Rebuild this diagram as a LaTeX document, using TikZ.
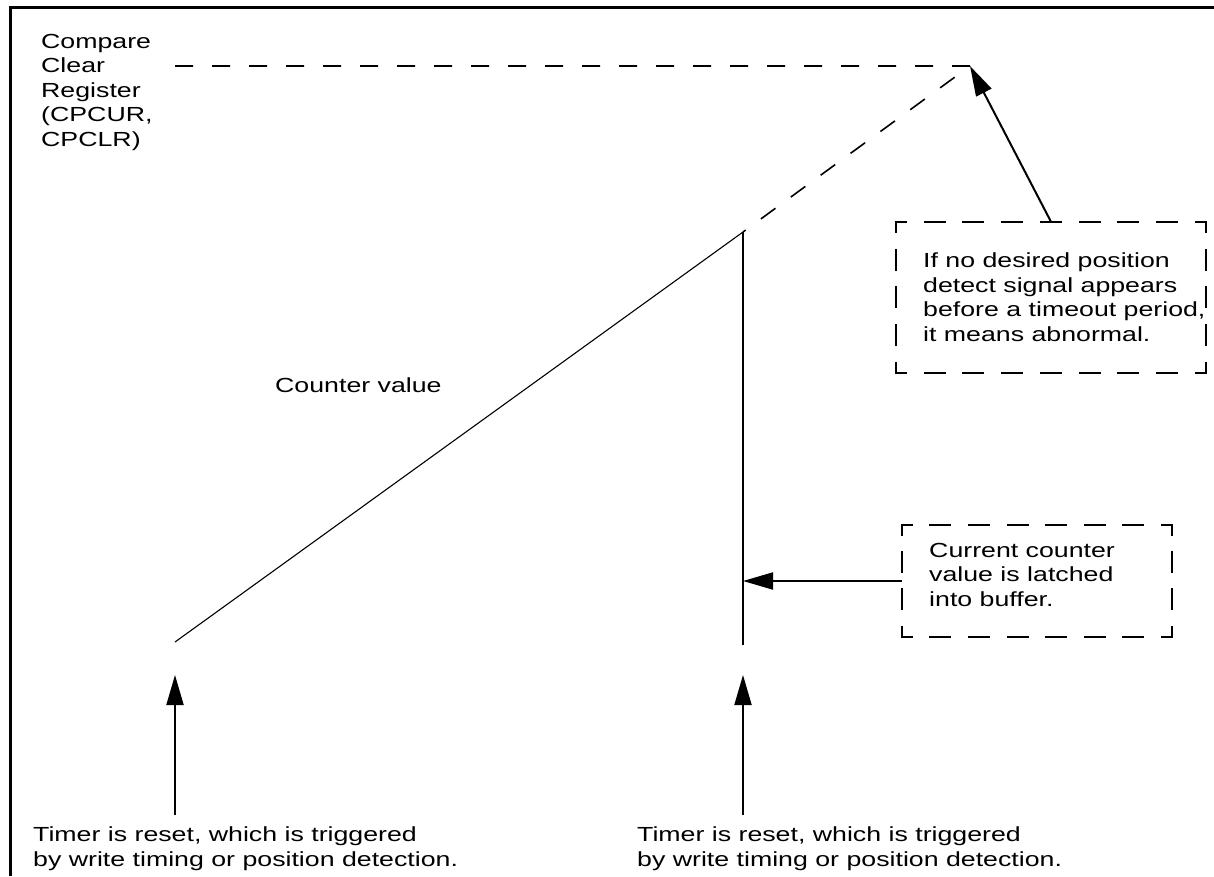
\documentclass[tikz,border=0pt]{standalone}
\usepackage{fontspec}
\setmainfont{Liberation Sans}[FakeStretch=1.31]
\usetikzlibrary{positioning, arrows.meta, calc}

\begin{document}
\begin{tikzpicture}[
    x=1pt, y=-1pt,
    font=\fontsize{20.4}{24.5}\selectfont,
    lbl/.style={inner sep=0pt, align=left, anchor=base west},
    notebox/.style={inner sep=0pt},
    boxside/.style={line width=2pt, line cap=rect, dash pattern=on 20pt off #1, dash phase=10pt},
    lim/.style={line width=1.6pt, dash pattern=on 18pt off 19pt},
    cnt/.style={line width=1.1pt},
    hold/.style={line width=2pt},
    ar/.style={-{Triangle[length=30pt, width=17pt]}, line width=2pt}
]
\useasboundingbox (0,0) rectangle (1214,876);
% frame
\draw[line width=3pt] (1214,7) -- (10,7) -- (10,876);

% counter trace
\coordinate (lim0) at (175,66);
\coordinate (peak) at (970,66);
\coordinate (hit) at (743,232);
\coordinate (start) at (175,642);
\coordinate (stop) at (743,645);
\coordinate (go1) at (175,675);
\coordinate (go2) at (743,675);
\coordinate (foot1) at (175,815);
\coordinate (foot2) at (743,815);

% labels (base = last line)
\node[lbl] (clrlbl) at (41,146) {Compare\\Clear\\Register\\(CPCUR,\\CPCLR)};
\node[lbl] (cntlbl) at (275,392) {Counter value};

\node[notebox, minimum width=310pt, minimum height=151pt] (timeout) at (1051,297.5) {};
\node[lbl] (timeouttxt) at (923,341) {If no desired position\\detect signal appears\\before a timeout period,\\it means abnormal.};
\node[notebox, minimum width=270pt, minimum height=112pt] (buf) at (1037,581) {};
\node[lbl] (buftxt) at (929,606) {Current counter\\value is latched\\into buffer.};

% dashed frames, corners kept closed
\foreach \a/\b/\g in {north west/north east/18.75pt, south west/south east/18.75pt,
                      north west/south west/17.75pt, north east/south east/17.75pt}
  \draw[boxside=\g] (timeout.\a) -- (timeout.\b);
\foreach \a/\b/\g in {north west/north east/18.57pt, south west/south east/18.57pt,
                      north west/south west/17.33pt, north east/south east/17.33pt}
  \draw[boxside=\g] (buf.\a) -- (buf.\b);

\node[lbl] (reset1) at (33,866) {Timer is reset, which is triggered\\by write timing or position detection.};
\node[lbl] (reset2) at (637,866) {Timer is reset, which is triggered\\by write timing or position detection.};

\draw[lim] (lim0) -- (peak) -- (hit);
\draw[cnt] (hit) -- (start);
\draw[hold] (hit) -- (stop);

\draw[ar] (timeout.north) -- (peak);
\draw[ar] (buf.west) -- (buf.west -| hit);
\draw[ar] (foot1) -- (go1);
\draw[ar] (foot2) -- (go2);
\end{tikzpicture}
\end{document}
